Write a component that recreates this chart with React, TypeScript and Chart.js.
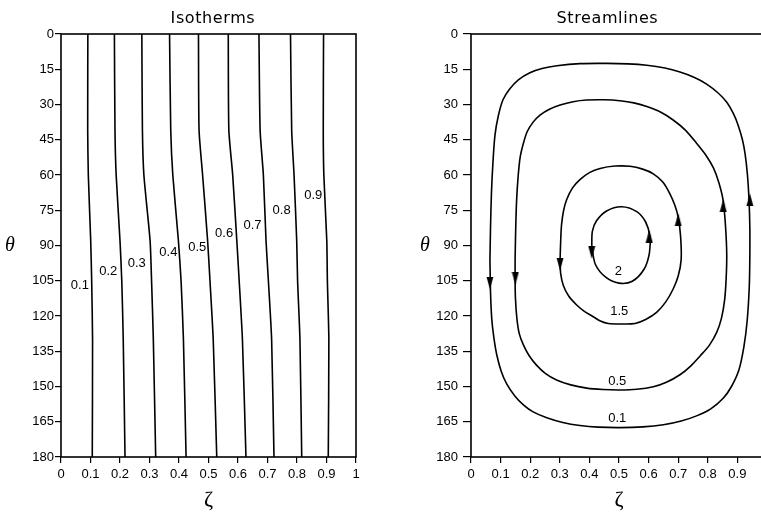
import React, { useEffect, useRef } from 'react';
import { Chart, registerables } from 'chart.js';

Chart.register(...registerables);

// ---------- axes ----------
const thetaTicks = [0, 15, 30, 45, 60, 75, 90, 105, 120, 135, 150, 165, 180];
const zetaTicks = [0, 0.1, 0.2, 0.3, 0.4, 0.5, 0.6, 0.7, 0.8, 0.9, 1];
const zetaTickLabels = ['0', '0.1', '0.2', '0.3', '0.4', '0.5', '0.6', '0.7', '0.8', '0.9', '1'];

// ---------- isotherms (zeta positions at the given theta values) ----------
const isoTheta = [0, 41, 60, 88, 105, 130, 180];
const iso01 = [0.091, 0.0905, 0.0926, 0.1007, 0.104, 0.107, 0.106];
const iso02 = [0.181, 0.183, 0.187, 0.2, 0.206, 0.211, 0.217];
const iso03 = [0.274, 0.276, 0.281, 0.302, 0.307, 0.313, 0.321];
const iso04 = [0.368, 0.372, 0.379, 0.398, 0.407, 0.415, 0.424];
const iso05 = [0.466, 0.468, 0.48, 0.497, 0.505, 0.516, 0.528];
const iso06 = [0.567, 0.569, 0.582, 0.596, 0.604, 0.615, 0.627];
const iso07 = [0.671, 0.675, 0.686, 0.695, 0.703, 0.714, 0.722];
const iso08 = [0.778, 0.782, 0.79, 0.799, 0.802, 0.81, 0.816];
const iso09 = [0.89, 0.889, 0.891, 0.901, 0.903, 0.908, 0.906];
const isoLines = [iso01, iso02, iso03, iso04, iso05, iso06, iso07, iso08, iso09];

const isoLabels = ['0.1', '0.2', '0.3', '0.4', '0.5', '0.6', '0.7', '0.8', '0.9'];
const isoLabelZeta = [0.064, 0.16, 0.257, 0.364, 0.462, 0.553, 0.649, 0.748, 0.855];
const isoLabelTheta = [107, 101, 97.6, 93, 90.8, 85, 81.3, 75.2, 68.8];

// ---------- streamlines (closed contours) ----------
const psi01Zeta = [0.064, 0.066, 0.069, 0.074, 0.081, 0.092, 0.108, 0.13, 0.16, 0.199, 0.24, 0.29, 0.368, 0.458, 0.53, 0.594, 0.655, 0.706, 0.755, 0.796, 0.834, 0.864, 0.887, 0.903, 0.917, 0.926, 0.934, 0.939, 0.942, 0.942, 0.94, 0.933, 0.922, 0.905, 0.88, 0.852, 0.81, 0.762, 0.71, 0.65, 0.58, 0.503, 0.43, 0.368, 0.31, 0.256, 0.21, 0.177, 0.148, 0.121, 0.102, 0.087, 0.077, 0.07, 0.066, 0.064];
const psi01Theta = [96, 82, 68, 55, 43, 35, 28, 23.5, 19.5, 16.5, 14.7, 13.5, 12.6, 12.5, 12.7, 13.3, 14.5, 16.2, 18.5, 21.3, 25, 29, 34, 39, 45, 51, 60, 70, 82, 95, 108, 122, 133, 143, 150, 155, 159.5, 162.5, 164.7, 166.3, 167.2, 167.5, 167.3, 166.6, 165.3, 163.3, 160.8, 157.8, 154, 149, 143.5, 136.5, 129, 121, 110, 96];

const psi05Zeta = [0.149, 0.151, 0.154, 0.159, 0.166, 0.177, 0.19, 0.21, 0.233, 0.265, 0.301, 0.345, 0.391, 0.45, 0.503, 0.55, 0.594, 0.64, 0.683, 0.725, 0.762, 0.793, 0.819, 0.838, 0.852, 0.86, 0.864, 0.862, 0.857, 0.846, 0.83, 0.805, 0.774, 0.742, 0.706, 0.66, 0.616, 0.56, 0.503, 0.445, 0.391, 0.337, 0.289, 0.252, 0.222, 0.196, 0.177, 0.163, 0.155, 0.15, 0.149, 0.149];
const psi05Theta = [96, 83, 71, 61, 52.5, 46.5, 41.5, 37.5, 34.5, 32, 30.2, 28.8, 28.1, 28, 28.4, 29.3, 30.9, 33.2, 36.6, 41, 46.5, 51.5, 57, 63.5, 71, 82, 94, 104, 113, 121, 127, 132.5, 137, 141.3, 145, 148.2, 150.1, 151.2, 151.5, 151.3, 150.7, 149.3, 147.2, 144.5, 141, 136.8, 132.3, 127.5, 121, 112, 103, 96];

const psi15Zeta = [0.301, 0.303, 0.306, 0.313, 0.323, 0.343, 0.368, 0.4, 0.436, 0.487, 0.537, 0.58, 0.616, 0.648, 0.672, 0.689, 0.7, 0.708, 0.71, 0.7, 0.683, 0.658, 0.627, 0.59, 0.554, 0.51, 0.464, 0.435, 0.413, 0.383, 0.357, 0.33, 0.312, 0.303, 0.301];
const psi15Theta = [96, 88, 81, 75, 70.5, 65.5, 62, 59, 57.2, 56.2, 56.3, 57.5, 59.5, 63, 68, 73, 78, 86, 96, 103, 108.5, 114, 118.5, 121.5, 123.2, 123.4, 123.2, 122, 120.3, 118, 115.3, 111.5, 107, 102, 96];

const psi2Zeta = [0.408, 0.41, 0.424, 0.458, 0.509, 0.56, 0.59, 0.604, 0.603, 0.585, 0.545, 0.5, 0.455, 0.42, 0.408];
const psi2Theta = [90, 84, 79.5, 75.3, 73.5, 75.6, 80, 86, 93, 100, 105.2, 106, 103.5, 98, 90];

const streamZeta = [psi01Zeta, psi05Zeta, psi15Zeta, psi2Zeta];
const streamTheta = [psi01Theta, psi05Theta, psi15Theta, psi2Theta];

const streamLabels = ['0.1', '0.5', '1.5', '2'];
const streamLabelZeta = [0.494, 0.494, 0.501, 0.498];
const streamLabelTheta = [163.5, 147.7, 118.2, 101.1];

// arrows: position and direction (0 = pointing up, 180 = pointing down)
const arrowZeta = [0.064, 0.942, 0.15, 0.852, 0.301, 0.7, 0.408, 0.602];
const arrowTheta = [106, 70.5, 104, 73, 98, 79, 93, 86];
const arrowRotation = [180, 0, 180, 0, 180, 0, 180, 0];

// ---------- helpers ----------
const LABEL_FONT = '13px "Liberation Sans"';

const panelText = {
  id: 'panelText',
  afterDraw(chart: any, _args: any, opts: any) {
    const ctx = chart.ctx;
    const { left, top, right, bottom } = chart.chartArea;
    const xs = chart.scales.x;
    const ys = chart.scales.y;
    ctx.save();
    // frame
    ctx.strokeStyle = '#000';
    ctx.lineWidth = 1.6;
    ctx.strokeRect(left, top, right - left, bottom - top);
    // title
    ctx.fillStyle = '#000';
    ctx.font = '16px "DejaVu Sans"';
    (ctx as any).letterSpacing = '0.6px';
    ctx.textAlign = 'center';
    ctx.textBaseline = 'alphabetic';
    ctx.fillText(opts.title, left + opts.titleFrac * (right - left), 22.5);
    (ctx as any).letterSpacing = '0px';
    // theta label
    ctx.font = 'italic 20px "Liberation Serif"';
    ctx.textBaseline = 'middle';
    ctx.fillText('θ', left + opts.thetaOffset, ys.getPixelForValue(90));
    // contour labels
    ctx.font = LABEL_FONT;
    const labels: string[] = opts.labels;
    labels.forEach((t, i) => {
      ctx.fillText(t, xs.getPixelForValue(opts.labelZeta[i]), ys.getPixelForValue(opts.labelTheta[i]));
    });
    ctx.restore();
  },
};

function makeArrowImage() {
  const c = document.createElement('canvas');
  c.width = 8;
  c.height = 13;
  const g = c.getContext('2d')!;
  g.fillStyle = '#000';
  g.beginPath();
  g.moveTo(4, 0);
  g.lineTo(7.5, 13);
  g.lineTo(0.5, 13);
  g.closePath();
  g.fill();
  return c;
}

function makeOptions(p: { yWidth: number; padRight: number; yTickLen: number; yTickPad: number; title: string; titleFrac: number; thetaOffset: number; labels: string[]; labelZeta: number[]; labelTheta: number[] }) {
  return {
    responsive: false,
    animation: false as const,
    devicePixelRatio: 1,
    layout: { padding: { left: 0, right: p.padRight, top: 34, bottom: 0 } },
    plugins: {
      legend: { display: false },
      tooltip: { enabled: false },
      title: { display: false },
      panelText: {
        title: p.title,
        titleFrac: p.titleFrac,
        thetaOffset: p.thetaOffset,
        labels: p.labels,
        labelZeta: p.labelZeta,
        labelTheta: p.labelTheta,
      },
    },
    scales: {
      x: {
        type: 'linear' as const,
        min: 0,
        max: 1,
        afterBuildTicks: (s: any) => {
          s.ticks = zetaTicks.map((v) => ({ value: v }));
        },
        afterFit: (s: any) => {
          s.height = 58;
        },
        ticks: {
          autoSkip: false,
          maxRotation: 0,
          padding: 4,
          color: '#000',
          font: { family: 'Liberation Sans', size: 13 },
          callback: (_v: any, i: number) => zetaTickLabels[i],
        },
        grid: { drawOnChartArea: false, drawTicks: true, tickLength: 6, color: '#000', lineWidth: 1.2 },
        border: { display: false },
        title: {
          display: true,
          text: 'ζ',
          color: '#000',
          font: { family: 'Liberation Serif', size: 22 },
          padding: { top: 0, bottom: 2 },
        },
      },
      y: {
        type: 'linear' as const,
        reverse: true,
        min: 0,
        max: 180,
        afterBuildTicks: (s: any) => {
          s.ticks = thetaTicks.map((v) => ({ value: v }));
        },
        afterFit: (s: any) => {
          s.width = p.yWidth;
        },
        ticks: {
          autoSkip: false,
          padding: p.yTickPad,
          color: '#000',
          font: { family: 'Liberation Sans', size: 13 },
          callback: (v: any) => String(v),
        },
        grid: { drawOnChartArea: false, drawTicks: true, tickLength: p.yTickLen, color: '#000', lineWidth: 1.2 },
        border: { display: false },
      },
    },
  };
}

function lineDataset(xs: number[], ys: number[], tension: number) {
  return {
    type: 'scatter' as const,
    data: xs.map((x, i) => ({ x, y: ys[i] })),
    showLine: true,
    borderColor: '#000',
    borderWidth: 1.6,
    pointRadius: 0,
    tension,
    fill: false,
  };
}

export default function App() {
  const leftRef = useRef<HTMLCanvasElement>(null);
  const rightRef = useRef<HTMLCanvasElement>(null);

  useEffect(() => {
    const arrowImg = makeArrowImage();

    const left = new Chart(leftRef.current!, {
      type: 'scatter',
      data: {
        datasets: isoLines.map((arr) => lineDataset(arr, isoTheta, 0.2)),
      },
      options: makeOptions({
        yWidth: 61,
        padRight: 24,
        yTickLen: 6,
        yTickPad: 1,
        title: 'Isotherms',
        titleFrac: 0.515,
        thetaOffset: -51,
        labels: isoLabels,
        labelZeta: isoLabelZeta,
        labelTheta: isoLabelTheta,
      }) as any,
      plugins: [panelText],
    });

    const right = new Chart(rightRef.current!, {
      type: 'scatter',
      data: {
        datasets: [
          ...streamZeta.map((zs, k) => lineDataset(zs, streamTheta[k], 0.3)),
          {
            type: 'scatter' as const,
            data: arrowZeta.map((x, i) => ({ x, y: arrowTheta[i] })),
            showLine: false,
            pointStyle: arrowImg as any,
            pointRadius: 6,
            pointRotation: (c: any) => arrowRotation[c.dataIndex] ?? 0,
            backgroundColor: '#000',
            borderColor: '#000',
          } as any,
        ],
      },
      options: makeOptions({
        yWidth: 91,
        padRight: 13,
        yTickLen: 8,
        yTickPad: 5,
        title: 'Streamlines',
        titleFrac: 0.461,
        thetaOffset: -46,
        labels: streamLabels,
        labelZeta: streamLabelZeta,
        labelTheta: streamLabelTheta,
      }) as any,
      plugins: [panelText],
    });

    return () => {
      left.destroy();
      right.destroy();
    };
  }, []);

  return (
    <div style={{ position: 'fixed', left: 0, top: 0, width: 761, height: 515, overflow: 'hidden', background: '#fff' }}>
      <canvas ref={leftRef} width={380} height={515} style={{ position: 'absolute', left: 0, top: 0, width: 380, height: 515 }} />
      <canvas ref={rightRef} width={400} height={515} style={{ position: 'absolute', left: 380, top: 0, width: 400, height: 515 }} />
    </div>
  );
}
